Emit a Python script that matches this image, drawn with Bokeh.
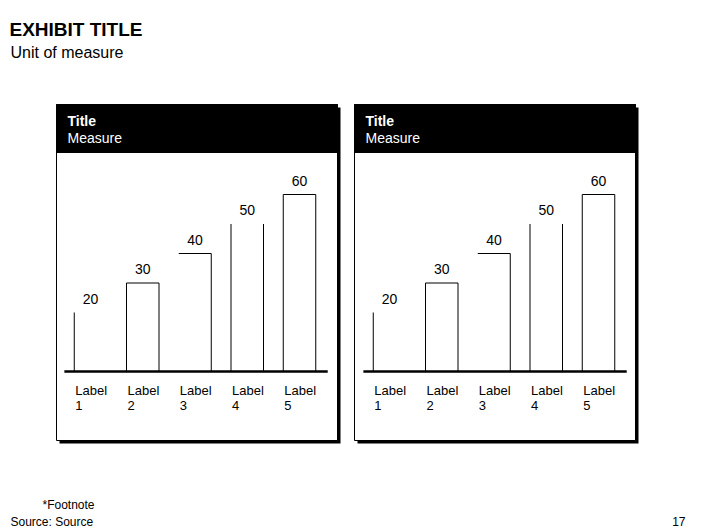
from bokeh.plotting import figure
from bokeh.models import Range1d
from bokeh.core.properties import value
from bokeh.embed import file_html
from bokeh.resources import INLINE

# ---------------- data ----------------
categories = ["Label\n1", "Label\n2", "Label\n3", "Label\n4", "Label\n5"]
values_left = [20, 30, 40, 50, 60]
values_right = [20, 30, 40, 50, 60]
panel_titles = ["Title", "Title"]
panel_measures = ["Measure", "Measure"]
exhibit_title = "EXHIBIT TITLE"
unit_text = "Unit of measure"
footnote_text = "*Footnote"
source_text = "Source: Source"
page_number = "17"

# ---------------- style / layout ----------------
BAR_EDGES = ["l", "ltr", "tr", "lr", "ltr"]   # which sides of each bar are drawn
FONT = "Liberation Sans"
M = 0                     # offset of figure on the page
W, H = 706, 529           # figure size
PANEL_X0 = 56
PANEL_W = 281
PANEL_DX = 298
PANEL_Y0 = 104
PANEL_Y1 = 440
HEADER_Y1 = 152
SHADOW = 3
FIRST_BAR_X = 90          # page x of first bar centre (left panel)
BAR_DX = 299              # offset of bars in right panel
BAR_PITCH = 52.25
BAR_W = 32.5
BASE_Y = 371              # page y of value 0
PX_PER_UNIT = 2.95
BASE_PAD_L, BASE_PAD_R = 0.5, 0.54

p = figure(width=W, height=H, output_backend="svg", toolbar_location=None,
           x_axis_type=None, y_axis_type=None,
           x_range=Range1d(M, M + W), y_range=Range1d(M + H, M),
           min_border=0, outline_line_color=None, background_fill_color="white",
           border_fill_color="white")

n = len(categories)
idx = list(range(1, n + 1))
hw = BAR_W / 2 / BAR_PITCH

# value scale shared by both panels
v_start = (BASE_Y - (M + H)) / PX_PER_UNIT
v_end = (BASE_Y - M) / PX_PER_UNIT
p.extra_y_ranges = {"val": Range1d(v_start, v_end)}
xr = {}
for k in range(2):
    s = 1 - (FIRST_BAR_X + k * BAR_DX - M) / BAR_PITCH
    xr[f"p{k}"] = Range1d(s, s + W / BAR_PITCH)
p.extra_x_ranges = xr

TXT = dict(text_font=value(FONT), text_baseline="middle", text_color="black")

# ---------------- titles ----------------
p.text(x=[9], y=[29], text=[exhibit_title], text_font_size="19px", text_font_style="bold", **TXT)
p.text(x=[10], y=[52], text=[unit_text], text_font_size="16px", **TXT)

# ---------------- panels ----------------
series = [values_left, values_right]
for k in range(2):
    x0 = PANEL_X0 + k * PANEL_DX
    x1 = x0 + PANEL_W
    # shadow
    p.quad(left=[x0 + SHADOW], right=[x1 + SHADOW], top=[PANEL_Y0 + SHADOW], bottom=[PANEL_Y1 + SHADOW],
           fill_color="black", line_color=None)
    # panel body
    p.quad(left=[x0], right=[x1], top=[PANEL_Y0], bottom=[PANEL_Y1],
           fill_color="white", line_color="black", line_width=1)
    # header
    p.quad(left=[x0], right=[x1], top=[PANEL_Y0], bottom=[HEADER_Y1],
           fill_color="black", line_color="black")
    p.text(x=[x0 + 11], y=[120], text=[panel_titles[k]], text_font=value(FONT), text_font_size="14px",
           text_font_style="bold", text_color="white", text_baseline="middle")
    p.text(x=[x0 + 11], y=[137], text=[panel_measures[k]], text_font=value(FONT), text_font_size="14px",
           text_color="white", text_baseline="middle")

    vals = series[k]
    rn = dict(x_range_name=f"p{k}", y_range_name="val")
    sx0, sy0, sx1, sy1 = [], [], [], []
    for i, v, e in zip(idx, vals, BAR_EDGES):
        l, r = i - hw, i + hw
        if "l" in e:
            sx0.append(l); sy0.append(0); sx1.append(l); sy1.append(v)
        if "t" in e:
            sx0.append(l); sy0.append(v); sx1.append(r); sy1.append(v)
        if "r" in e:
            sx0.append(r); sy0.append(0); sx1.append(r); sy1.append(v)
    p.segment(x0=sx0, y0=sy0, x1=sx1, y1=sy1, line_color="black", line_width=1, **rn)
    # baseline
    p.segment(x0=[idx[0] - BASE_PAD_L], y0=[0], x1=[idx[-1] + BASE_PAD_R], y1=[0],
              line_color="black", line_width=2.5, **rn)
    # value labels
    p.text(x=idx, y=vals, text=[str(v) for v in vals], text_font_size="14px",
           text_align="center", y_offset=-14, **TXT, **rn)
    # category labels (two lines)
    lines = [c.split("\n") for c in categories]
    for j in range(2):
        p.text(x=[i - hw for i in idx], y=[0] * n, text=[ln[j] for ln in lines],
               text_font_size="13px", text_align="left",
               x_offset=1, y_offset=19 + 15 * j, **TXT, **rn)

# ---------------- footer ----------------
p.text(x=[42], y=[504.5], text=[footnote_text], text_font_size="12px", **TXT)
p.text(x=[10], y=[521], text=[source_text], text_font_size="12px", **TXT)
p.text(x=[685], y=[521], text=[page_number], text_font_size="12px", text_align="right", **TXT)

open("out.html", "w").write(file_html(p, INLINE))
